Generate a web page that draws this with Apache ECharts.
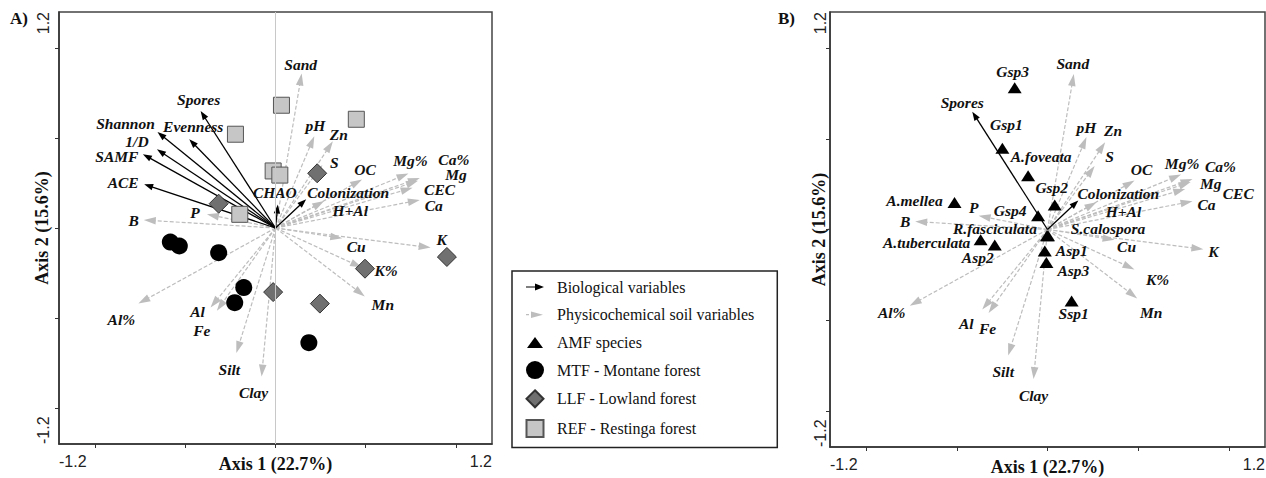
<!DOCTYPE html>
<html>
<head>
<meta charset="utf-8">
<script src="https://cdn.jsdelivr.net/npm/echarts@6/dist/echarts.min.js"></script>
<style>
html,body{margin:0;padding:0;background:#fff;}
#main{width:1266px;height:478px;}
</style>
</head>
<body>
<div id="main"></div>
<script>
// biological variables (black arrows)
var bioNames = ['Spores','Shannon','Evenness','1/D','SAMF','ACE','CHAO','Colonization'];
var bioX = [-0.415,-0.654,-0.478,-0.657,-0.735,-0.728,0.013,0.17];
var bioY = [0.65,0.533,0.493,0.437,0.41,0.243,0.13,0.16];
var bioInB = ['Spores','Colonization'];

// physicochemical soil variables (grey dashed arrows)
var envNames = ['Sand','pH','Zn','S','OC','Mg%','Ca%','Mg','CEC','Ca','H+Al','B','P','Cu','K','K%','Mn','Al%','Al','Fe','Silt','Clay'];
var envX = [0.145,0.215,0.318,0.26,0.48,0.737,0.8,0.79,0.76,0.8,0.27,-0.73,-0.38,0.37,0.86,0.48,0.495,-0.76,-0.36,-0.325,-0.217,-0.077];
var envY = [0.858,0.51,0.482,0.35,0.27,0.303,0.278,0.262,0.224,0.156,0.15,0.044,0.076,-0.057,-0.109,-0.22,-0.38,-0.42,-0.442,-0.46,-0.695,-0.825];

// sites (panel A)
var mtfX = [-0.583,-0.533,-0.315,-0.176,-0.226,0.185];
var mtfY = [-0.078,-0.1,-0.137,-0.331,-0.415,-0.637];
var llfX = [0.231,-0.315,0.95,0.496,-0.013,0.246];
var llfY = [0.304,0.135,-0.161,-0.226,-0.356,-0.42];
var refX = [0.033,0.448,-0.222,-0.013,0.024,-0.198];
var refY = [0.682,0.604,0.521,0.317,0.294,0.076];

// AMF species (panel B)
var amfNames = ['Gsp3','Gsp1','A.foveata','Gsp2','Gsp4','A.mellea','R.fasciculata','S.calospora','A.tuberculata','Asp2','Asp1','Asp3','Ssp1'];
var amfX = [-0.181,-0.249,-0.107,0.04,-0.052,-0.513,-0.003,0.003,-0.369,-0.291,-0.015,-0.006,0.133];
var amfY = [0.782,0.448,0.297,0.135,0.076,0.149,-0.035,-0.035,-0.057,-0.086,-0.118,-0.182,-0.394];

var tickValues = [-1,-0.5,0,0.5,1];
var endLabels = [-1.2,1.2];

// label offsets in pixels (name -> [dx,dy] from arrow tip / point)
var bioLabA = {'Spores':[-2,-12],'Shannon':[-32,-9],'Evenness':[4,-13],'1/D':[-20,-8],'SAMF':[-26,2],'ACE':[-21,-2],'CHAO':[-3,-12],'Colonization':[42,-7]};
var bioLabB = {'Spores':[-10,-9],'Colonization':[40,-7]};
var envLabA = {'Sand':[-1,-9],'pH':[1,-11],'Zn':[6,-7],'S':[12,-3],'OC':[3,-10],'Mg%':[2,-13],'Ca%':[34,-18],'Mg':[38,-6],'CEC':[27,2],'Ca':[14,6],'H+Al':[26,9],'B':[-10,0],'P':[-12,-2],'Cu':[14,8],'K':[11,-8],'K%':[24,3],'Mn':[18,8],'Al%':[-17,16],'Al':[-13,4],'Fe':[-15,20],'Silt':[-7,16],'Clay':[-8,16]};
var envLabB = {'Sand':[-1,-10],'pH':[0,-10],'Zn':[8,-12],'S':[15,-10],'OC':[7,-11],'Mg%':[1,-11],'Ca%':[28,-13],'Mg':[20,1],'CEC':[53,5],'Ca':[14,3],'H+Al':[27,9],'B':[-10,0],'P':[-5,-8],'Cu':[12,7],'K':[10,2],'K%':[23,10],'Mn':[14,14],'Al%':[-18,7],'Al':[-16,14],'Fe':[-1,16],'Silt':[-5,16],'Clay':[0,16]};
var amfLab = {'Gsp3':[-2,-16],'Gsp1':[4,-24],'A.foveata':[13,-19],'Gsp2':[-3,-18],'Gsp4':[-28,-5],'A.mellea':[-40,-2],'R.fasciculata':[-52,-7],'S.calospora':[60,-7],'A.tuberculata':[-54,3],'Asp2':[-17,12],'Asp1':[27,0],'Asp3':[27,8],'Ssp1':[2,13]};

var serif = '"Liberation Serif","Times New Roman",serif';
var sans = '"Liberation Sans",Arial,sans-serif';

function arrowRender(names, labs, color, dashed, headL, headW) {
	return function (params, api) {
		var o = api.coord([0, 0]);
		var p = api.coord([api.value(0), api.value(1)]);
		var dx = p[0] - o[0], dy = p[1] - o[1];
		var len = Math.sqrt(dx * dx + dy * dy);
		var ux = dx / len, uy = dy / len;
		var bx = p[0] - ux * headL, by = p[1] - uy * headL;
		var name = names[params.dataIndex];
		var off = labs[name] || [0, 0];
		return {
			type: 'group',
			children: [
				{type: 'line', shape: {x1: o[0], y1: o[1], x2: bx + ux, y2: by + uy},
					style: {stroke: color, lineWidth: dashed ? 1.2 : 1.3, lineDash: dashed ? [4, 2] : null}},
				{type: 'polygon', shape: {points: [[p[0], p[1]], [bx - uy * headW, by + ux * headW], [bx + uy * headW, by - ux * headW]]},
					style: {fill: color}},
				{type: 'text', x: p[0] + off[0], y: p[1] + off[1],
					style: {text: name, align: 'center', verticalAlign: 'middle', fill: '#111',
						fontSize: 15.5, fontStyle: 'italic', fontWeight: 'bold', fontFamily: serif}}
			]
		};
	};
}

function pairs(xs, ys) {
	return xs.map(function (x, i) { return [x, ys[i]]; });
}

var bioIdxB = bioInB.map(function (n) { return bioNames.indexOf(n); });

function xAxisFor(i, nameGap) {
	return {
		gridIndex: i, type: 'value', min: -1.2, max: 1.2,
		name: 'Axis 1 (22.7%)', nameLocation: 'middle', nameGap: nameGap, nameMoveOverlap: false,
		nameTextStyle: {fontFamily: serif, fontWeight: 'bold', fontSize: 18, color: '#111'},
		axisLine: {show: true, onZero: false, lineStyle: {color: '#333', width: 1.5}},
		axisTick: {show: true, length: 4, customValues: tickValues, lineStyle: {color: '#333'}},
		axisLabel: {customValues: endLabels, formatter: function (v) { return v.toFixed(1); },
			fontFamily: sans, fontSize: 16, color: '#222', margin: 9,
			alignMinLabel: 'left', alignMaxLabel: 'right'},
		splitLine: {show: false}
	};
}
function yAxisFor(i, nameGap, margin) {
	return {
		gridIndex: i, type: 'value', min: -1.2, max: 1.2,
		name: 'Axis 2 (15.6%)', nameLocation: 'middle', nameGap: nameGap, nameRotate: 90, nameMoveOverlap: false,
		nameTextStyle: {fontFamily: serif, fontWeight: 'bold', fontSize: 18, color: '#111'},
		axisLine: {show: true, onZero: false, lineStyle: {color: '#333', width: 1.5}},
		axisTick: {show: true, length: 4, customValues: tickValues, lineStyle: {color: '#333'}},
		axisLabel: {customValues: endLabels, formatter: function (v) { return v.toFixed(1); },
			rotate: 90, fontFamily: sans, fontSize: 16, color: '#222', margin: margin,
			alignMinLabel: 'left', alignMaxLabel: 'right'},
		splitLine: {show: false}
	};
}

var ptLabel = {fontFamily: serif, fontStyle: 'italic', fontWeight: 'bold', fontSize: 15.5, color: '#111'};
var frame = 'path://M0,0M34,18';

var chart = echarts.init(document.getElementById('main'), null, {renderer: 'svg'});
var option = {
	animation: false,
	backgroundColor: '#fff',
	title: [
		{text: 'A)', left: 10, top: 10, padding: 0, textStyle: {fontFamily: serif, fontWeight: 'bold', fontSize: 17, color: '#111'}},
		{text: 'B)', left: 778, top: 10, padding: 0, textStyle: {fontFamily: serif, fontWeight: 'bold', fontSize: 17, color: '#111'}}
	],
	grid: [
		{left: 59, top: 12, width: 433, height: 432, show: true, borderColor: '#444', borderWidth: 1.5, outerBoundsMode: 'none'},
		{left: 830, top: 12, width: 435, height: 435, show: true, borderColor: '#444', borderWidth: 1.5, outerBoundsMode: 'none'}
	],
	xAxis: [xAxisFor(0, 11), xAxisFor(1, 11)],
	yAxis: [yAxisFor(0, 8, 8), yAxisFor(1, 2, 2)],
	legend: {
		orient: 'vertical', left: 512, top: 271,
		padding: [7, 23, 9, 5], itemGap: 9.7, itemWidth: 34, itemHeight: 18,
		borderColor: '#222', borderWidth: 1.5, backgroundColor: '#fff',
		textStyle: {fontFamily: serif, fontSize: 16, color: '#111'},
		selectedMode: false,
		data: [
			{name: 'Biological variables', icon: frame + 'M8,8.4L17,8.4L17,5.5L26,9L17,12.5L17,9.6L8,9.6Z'},
			{name: 'Physicochemical soil variables', icon: frame + 'M8,8.4L11,8.4L11,9.6L8,9.6ZM13,5.8L25,9L13,12.2Z'},
			{name: 'AMF species', icon: frame + 'M9,14.5L17,3.5L25,14.5Z'},
			{name: 'MTF - Montane forest', icon: frame + 'M8,9A9,9 0 1,0 26,9A9,9 0 1,0 8,9Z'},
			{name: 'LLF - Lowland forest', icon: frame + 'M17,0.5L25.5,9L17,17.5L8.5,9Z'},
			{name: 'REF - Restinga forest', icon: frame + 'M8.5,0.5L25.5,0.5L25.5,17.5L8.5,17.5Z'}
		]
	},
	series: [
		// panel A
		{
			type: 'custom', name: 'Physicochemical soil variables', xAxisIndex: 0, yAxisIndex: 0,
			itemStyle: {color: '#bdbdbd'},
			renderItem: arrowRender(envNames, envLabA, '#bdbdbd', true, 12, 3.8),
			data: pairs(envX, envY), encode: {x: 0, y: 1},
			markLine: {silent: true, symbol: 'none', label: {show: false},
				lineStyle: {color: '#c8c8c8', type: 'solid', width: 1}, data: [{xAxis: 0}]}
		},
		{
			type: 'custom', name: 'Biological variables', xAxisIndex: 0, yAxisIndex: 0,
			itemStyle: {color: '#000'},
			renderItem: arrowRender(bioNames, bioLabA, '#000', false, 9, 3.2),
			data: pairs(bioX, bioY), encode: {x: 0, y: 1}
		},
		{
			type: 'scatter', name: 'MTF - Montane forest', xAxisIndex: 0, yAxisIndex: 0,
			symbol: 'circle', symbolSize: 17, itemStyle: {color: '#000', opacity: 1},
			data: pairs(mtfX, mtfY)
		},
		{
			type: 'scatter', name: 'LLF - Lowland forest', xAxisIndex: 0, yAxisIndex: 0,
			symbol: 'diamond', symbolSize: 19, itemStyle: {color: '#707070', borderColor: '#333', borderWidth: 1, opacity: 1},
			data: pairs(llfX, llfY)
		},
		{
			type: 'scatter', name: 'REF - Restinga forest', xAxisIndex: 0, yAxisIndex: 0,
			symbol: 'rect', symbolSize: 16, itemStyle: {color: '#c6c6c6', borderColor: '#555', borderWidth: 1, opacity: 1},
			data: pairs(refX, refY)
		},
		// panel B
		{
			type: 'custom', name: 'Physicochemical soil variables', xAxisIndex: 1, yAxisIndex: 1,
			itemStyle: {color: '#bdbdbd'},
			renderItem: arrowRender(envNames, envLabB, '#bdbdbd', true, 12, 3.8),
			data: pairs(envX, envY), encode: {x: 0, y: 1}
		},
		{
			type: 'custom', name: 'Biological variables', xAxisIndex: 1, yAxisIndex: 1,
			itemStyle: {color: '#000'},
			renderItem: arrowRender(bioInB, bioLabB, '#000', false, 9, 3.2),
			data: bioIdxB.map(function (k) { return [bioX[k], bioY[k]]; }), encode: {x: 0, y: 1}
		},
		{
			type: 'scatter', name: 'AMF species', xAxisIndex: 1, yAxisIndex: 1,
			symbol: 'triangle', symbolSize: [14, 11], itemStyle: {color: '#000', opacity: 1},
			label: {show: true, position: 'inside', formatter: '{b}'},
			data: amfNames.map(function (n, i) {
				return {name: n, value: [amfX[i], amfY[i]],
					label: Object.assign({offset: amfLab[n]}, ptLabel)};
			})
		}
	]
};
chart.setOption(option);
</script>
</body>
</html>
